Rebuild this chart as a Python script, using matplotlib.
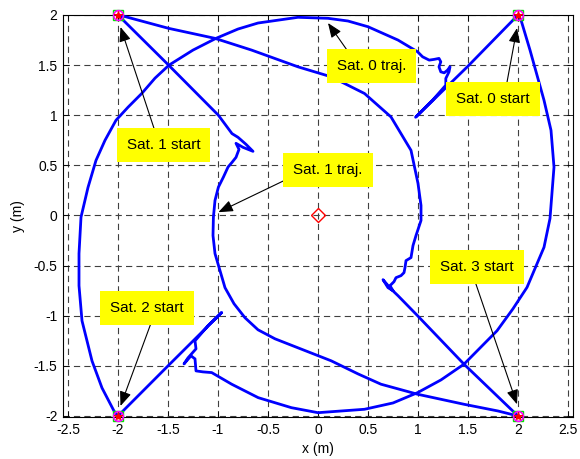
import matplotlib
matplotlib.use("Agg")
import matplotlib.pyplot as plt

plt.rcParams['font.family'] = ['Liberation Sans', 'DejaVu Sans']
plt.rcParams['lines.scale_dashes'] = False

# ---- data ----
sat0_x = [2.0, 1.5, 0.976, 1.15, 1.278, 1.278, 1.278, 1.31, 1.32, 1.295, 1.262, 1.228, 1.21, 1.228,
          1.21, 1.16, 1.112, 1.046, 0.996, 0.8, 0.5, 0.3, 0.1, -0.2, -0.6, -0.8, -1.02, -1.25, -1.49,
          -1.63, -1.76, -1.9, -2.02, -2.13, -2.22, -2.3, -2.37, -2.39, -2.39, -2.36, -2.26, -2.16,
          -2.04, -2.0]
sat0_y = [2.0, 1.49, 0.98, 1.155, 1.30, 1.333, 1.367, 1.433, 1.483, 1.45, 1.423, 1.433, 1.483, 1.533,
          1.567, 1.557, 1.55, 1.583, 1.633, 1.75, 1.883, 1.94, 1.967, 1.977, 1.92, 1.86, 1.767, 1.65,
          1.5, 1.37, 1.22, 1.08, 0.95, 0.75, 0.55, 0.28, -0.017, -0.38, -0.7, -1.05, -1.45, -1.72,
          -1.95, -2.0]

sat1_x = [-2.0, -1.494, -0.996, -0.86, -0.8, -0.72, -0.65, -0.75, -0.82, -0.79, -0.82, -0.86, -0.9,
          -0.946, -0.996, -1.03, -1.046, -1.05, -1.03, -0.93, -0.84, -0.73, -0.6, -0.43, -0.2, 0.133,
          0.4, 0.63, 0.996, 1.46, 1.8, 2.0]
sat1_y = [2.0, 1.5, 1.0, 0.817, 0.78, 0.71, 0.64, 0.68, 0.72, 0.66, 0.58, 0.53, 0.483,
          0.383, 0.283, 0.15, -0.017, -0.2, -0.38, -0.72, -0.88, -1.02, -1.14, -1.23, -1.32, -1.45,
          -1.58, -1.683, -1.783, -1.883, -1.95, -2.0]

sat2_x = [-2.0, -1.5, -0.963, -1.1, -1.23, -1.22, -1.3, -1.34, -1.27, -1.23, -1.22, -1.15, -1.063,
          -0.863, -0.598, -0.266, 0.0, 0.465, 0.75, 0.996, 1.23, 1.46, 1.79, 1.95, 2.09, 2.26, 2.32,
          2.36, 2.33, 2.26, 2.12, 2.03, 2.0]
sat2_y = [-2.0, -1.5, -0.967, -1.1, -1.25, -1.33, -1.42, -1.48, -1.40, -1.43, -1.55, -1.56, -1.567,
          -1.683, -1.817, -1.917, -1.967, -1.933, -1.87, -1.767, -1.64, -1.483, -1.15, -0.93, -0.717,
          -0.317, -0.03, 0.483, 0.85, 1.15, 1.65, 1.95, 2.0]

sat3_x = [2.0, 1.46, 0.996, 0.8, 0.73, 0.65, 0.70, 0.75, 0.72, 0.76, 0.78, 0.83, 0.86, 0.87, 0.88,
          0.93, 0.95, 0.98, 1.03, 1.03, 1.0, 0.93, 0.73, 0.465, 0.133, -0.2, -0.664, -1.03, -1.494,
          -1.925, -2.0]
sat3_y = [-2.0, -1.483, -1.0, -0.8, -0.733, -0.64, -0.72, -0.75, -0.70, -0.66, -0.62, -0.6, -0.57,
          -0.52, -0.45, -0.42, -0.3, -0.2, -0.05, 0.1, 0.32, 0.65, 0.983, 1.217, 1.383, 1.483, 1.65,
          1.767, 1.867, 1.983, 2.0]

start_x = [2.0, -2.0, -2.0, 2.0]
start_y = [2.0, 2.0, -2.0, -2.0]
center_x = [0.0]
center_y = [0.0]

labels = ["Sat. 0 traj.", "Sat. 0 start", "Sat. 1 start", "Sat. 1 traj.", "Sat. 2 start", "Sat. 3 start"]
label_x = [0.538, 1.748, -1.544, 0.1, -1.708, 1.589]
label_y = [1.49, 1.165, 0.70, 0.45, -0.925, -0.51]
tail_x = [0.29, 1.89, -1.64, -0.3, -1.676, 1.577]
tail_y = [1.65, 1.33, 0.87, 0.367, -1.09, -0.677]
tip_x = [0.1, 1.99, -1.975, -0.996, -1.975, 1.99]
tip_y = [1.92, 1.87, 1.88, 0.033, -1.9, -1.883]

xticks = [-2.5, -2, -1.5, -1, -0.5, 0, 0.5, 1, 1.5, 2, 2.5]
yticks = [-2, -1.5, -1, -0.5, 0, 0.5, 1, 1.5, 2]

# ---- figure ----
fig = plt.figure(figsize=(5.8, 4.59), dpi=100)
ax = fig.add_axes([63/580, 1 - 417/459, 510/580, 402/459])

for xs, ys in [(sat0_x, sat0_y), (sat1_x, sat1_y), (sat2_x, sat2_y), (sat3_x, sat3_y)]:
    ax.plot(xs, ys, color='#0000ff', lw=2.0, zorder=3, solid_joinstyle='round')

ax.plot(start_x, start_y, 's', ms=6.5, mfc='none', mec='#00e000', mew=1.0, clip_on=False, zorder=4)
ax.plot(start_x, start_y, 'o', ms=7, mfc='none', mec='#ff00ff', mew=1.2, clip_on=False, zorder=4)
ax.plot(start_x, start_y, '*', ms=6, color='red', mew=0.8, clip_on=False, zorder=5)
ax.plot(center_x, center_y, 'D', ms=7, mfc='none', mec='red', mew=1.0, zorder=4)

for t, lx, ly, tx, ty, px, py in zip(labels, label_x, label_y, tail_x, tail_y, tip_x, tip_y):
    ax.annotate('', xy=(px, py), xytext=(tx, ty),
                arrowprops=dict(arrowstyle='-|>,head_length=0.55,head_width=0.22',
                                color='black', lw=0.8, mutation_scale=16, shrinkA=0, shrinkB=0),
                zorder=6)
    ax.text(lx, ly, t, ha='center', va='center', fontsize=11, color='black', zorder=7,
            bbox=dict(boxstyle='square,pad=0.65', fc='#ffff00', ec='none'))

ax.set_xlim(-2.55, 2.55)
ax.set_ylim(-2.01, 2.0)
ax.set_xticks(xticks)
ax.set_xticklabels([('%g' % v) for v in xticks])
ax.set_yticks(yticks)
ax.set_yticklabels([('%g' % v) for v in yticks])
ax.tick_params(direction='in', length=4, width=0.6, top=True, right=True, labelsize=10, pad=4)
ax.grid(True, color='0.25', lw=0.8, ls=(0, (4.5, 3.0)))
ax.set_axisbelow(True)
for s in ax.spines.values():
    s.set_linewidth(0.8)
    s.set_color('black')
ax.set_xlabel('x (m)', fontsize=10, labelpad=4)
ax.set_ylabel('y (m)', fontsize=10, labelpad=6)

fig.savefig('out.png', dpi=100)
